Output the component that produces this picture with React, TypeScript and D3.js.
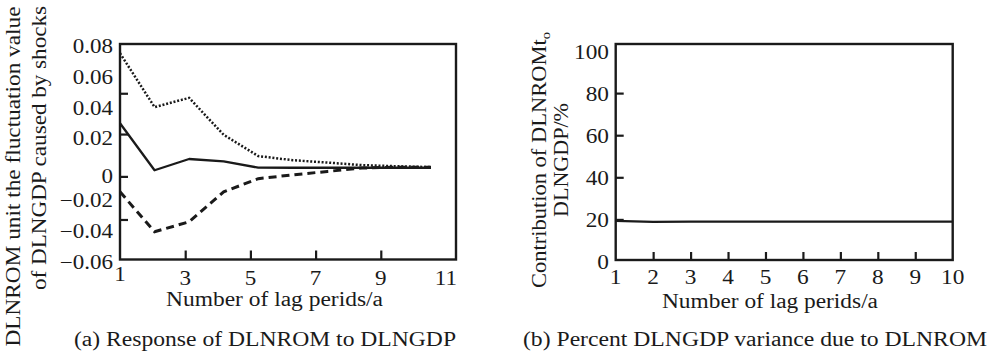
import { useEffect, useRef } from "react";
import * as d3 from "d3";

// ---- panel (a): impulse response ----
// lag positions as read against the printed axis (the plotted lags are spaced a bit wider than the ticks)
const lagPos = [1, 2.06, 3.12, 4.18, 5.24, 6.3, 7.36, 8.42, 9.48, 10.54];
const upperBand = [0.074, 0.039, 0.045, 0.021, 0.0072, 0.0045, 0.003, 0.0013, 0.0006, 0];
const response = [0.0285, -0.002, 0.0053, 0.0037, -0.0003, -0.0004, -0.0004, -0.0004, -0.0004, -0.0004];
const lowerBand = [-0.016, -0.042, -0.0355, -0.016, -0.0075, -0.005, -0.0028, -0.0006, 0, 0];

const aXTicks = [1, 3, 5, 7, 9, 11];
const aXTickMarks = [3, 5, 7, 9];
const aYLabels = ["0.08", "0.06", "0.04", "0.02", "0", "\u22120.02", "\u22120.04", "\u22120.06"];
const aYLabelAt = [0.08, 0.06, 0.04, 0.02, -0.0045, -0.02, -0.04, -0.06];
const aYTickMarks = [0.048, 0.0215, -0.006, -0.034];

// ---- panel (b): variance decomposition ----
const lags = [1, 2, 3, 4, 5, 6, 7, 8, 9, 10];
const contribution = [19.3, 18.8, 18.9, 18.9, 18.9, 18.9, 18.9, 18.9, 18.9, 18.9];
const bYTicks = [0, 20, 40, 60, 80, 100];
const bYTickMarks = [20, 40, 60, 80];
const bXTickMarks = [2, 3, 4, 5, 6, 7, 8, 9];

const FONT = "Liberation Serif, Tinos, Times New Roman, serif";
const INK = "#1a1a1a";

export default function App() {
  const ref = useRef<SVGSVGElement | null>(null);

  useEffect(() => {
    if (!ref.current) return;
    const svg = d3.select(ref.current);
    svg.selectAll("*").remove();

    const text = (
      x: number,
      y: number,
      s: string,
      opts: { size?: number; anchor?: string; len?: number; stretch?: number; rotate?: boolean } = {},
    ) => {
      const t = svg
        .append("text")
        .attr("x", x)
        .attr("y", y)
        .style("font-family", FONT)
        .style("font-size", `${opts.size ?? 20}px`)
        .attr("text-anchor", opts.anchor ?? "middle")
        .attr("fill", INK)
        .text(s);
      let len = opts.len;
      if (!len && opts.stretch) {
        const node = t.node() as SVGTextElement;
        len = node.getComputedTextLength() * opts.stretch;
      }
      if (len) t.attr("textLength", len).attr("lengthAdjust", "spacingAndGlyphs");
      if (opts.rotate) t.attr("transform", `rotate(-90,${x},${y})`);
      return t;
    };

    // ================= panel (a) =================
    const xa = d3.scaleLinear().domain([1, 11]).range([120, 446]);
    const ya = d3.scaleLinear().domain([-0.06, 0.08]).range([259.5, 44]);
    const aLeft = 120,
      aRight = 456,
      aTop = 44,
      aBottom = 259.5;

    // inward tick marks
    svg
      .append("g")
      .attr("transform", `translate(0,${aBottom})`)
      .call(d3.axisBottom(xa).tickValues(aXTickMarks).tickSize(-9).tickFormat(() => ""))
      .call((g) => g.select(".domain").remove())
      .call((g) => g.selectAll(".tick line").attr("stroke", INK).attr("stroke-width", 2.2));
    svg
      .append("g")
      .attr("transform", `translate(${aLeft},0)`)
      .call(d3.axisLeft(ya).tickValues(aYTickMarks).tickSize(-8).tickFormat(() => ""))
      .call((g) => g.select(".domain").remove())
      .call((g) => g.selectAll(".tick line").attr("stroke", INK).attr("stroke-width", 2.2));

    // frame
    svg
      .append("rect")
      .attr("x", aLeft)
      .attr("y", aTop)
      .attr("width", aRight - aLeft)
      .attr("height", aBottom - aTop)
      .attr("fill", "none")
      .attr("stroke", INK)
      .attr("stroke-width", 2.4);

    aYLabels.forEach((s, i) => {
      text(113, ya(aYLabelAt[i]) + 9, s, { size: 20, anchor: "end", stretch: 1.15 });
    });
    aXTicks.forEach((v) => {
      text(xa(v), v === 1 ? 281 : 285, String(v), { size: 21, stretch: 1.1 });
    });

    const lineA = (vals: number[]) =>
      d3
        .line<number>()
        .x((_d, i) => xa(lagPos[i]))
        .y((d) => ya(d))(vals);

    svg
      .append("path")
      .attr("d", lineA(upperBand))
      .attr("fill", "none")
      .attr("stroke", INK)
      .attr("stroke-width", 2.5)
      .attr("stroke-dasharray", "2 1.8");
    svg
      .append("path")
      .attr("d", lineA(lowerBand))
      .attr("fill", "none")
      .attr("stroke", INK)
      .attr("stroke-width", 3)
      .attr("stroke-dasharray", "8 5");
    svg
      .append("path")
      .attr("d", lineA(response))
      .attr("fill", "none")
      .attr("stroke", INK)
      .attr("stroke-width", 2.3)
      .attr("stroke-linejoin", "round");

    text(274.5, 306, "Number of lag perids/a", { len: 217 });
    text(265, 346, "(a) Response of DLNROM to DLNGDP", { len: 382 });
    text(20, 176.5, "DLNROM unit the fluctuation value", { rotate: true, len: 340 });
    text(46, 148, "of DLNGDP caused by shocks", { rotate: true, len: 284 });

    // ================= panel (b) =================
    const xb = d3.scaleLinear().domain([1, 10]).range([615.7, 952.7]);
    const yb = d3.scaleLinear().domain([0, 100]).range([261.5, 51]);
    const bLeft = 615.7,
      bRight = 952.7,
      bTop = 44,
      bBottom = 260;

    svg
      .append("g")
      .attr("transform", `translate(0,${bBottom})`)
      .call(d3.axisBottom(xb).tickValues(bXTickMarks).tickSize(-8).tickFormat(() => ""))
      .call((g) => g.select(".domain").remove())
      .call((g) => g.selectAll(".tick line").attr("stroke", INK).attr("stroke-width", 2.2));
    svg
      .append("g")
      .attr("transform", `translate(${bLeft},0)`)
      .call(d3.axisLeft(yb).tickValues(bYTickMarks).tickSize(-8).tickFormat(() => ""))
      .call((g) => g.select(".domain").remove())
      .call((g) => g.selectAll(".tick line").attr("stroke", INK).attr("stroke-width", 2.2));

    svg
      .append("rect")
      .attr("x", bLeft)
      .attr("y", bTop)
      .attr("width", bRight - bLeft)
      .attr("height", bBottom - bTop)
      .attr("fill", "none")
      .attr("stroke", INK)
      .attr("stroke-width", 2.4);

    bYTicks.forEach((v) => {
      text(609, yb(v) + 7.5, String(v), { size: 22, anchor: "end", stretch: 1.06 });
    });
    lags.forEach((v) => {
      text(xb(v), 284, String(v), { size: 22, stretch: 1.06 });
    });

    svg
      .append("path")
      .attr(
        "d",
        d3
          .line<number>()
          .x((_d, i) => xb(lags[i]))
          .y((d) => yb(d))(contribution),
      )
      .attr("fill", "none")
      .attr("stroke", INK)
      .attr("stroke-width", 2.2);

    text(770, 308, "Number of lag perids/a", { len: 216 });
    text(755, 346, "(b) Percent DLNGDP variance due to DLNROM", { len: 464 });

    // rotated y title of panel (b), "to" printed as t + small o in the source
    const t1 = svg
      .append("text")
      .attr("x", 546)
      .attr("y", 160)
      .style("font-family", FONT)
      .style("font-size", "20px")
      .attr("text-anchor", "middle")
      .attr("fill", INK)
      .attr("textLength", 256)
      .attr("lengthAdjust", "spacingAndGlyphs")
      .attr("transform", "rotate(-90,546,160)");
    t1.append("tspan").text("Contribution of DLNROMt");
    t1.append("tspan").style("font-size", "13px").attr("dy", 4).text("o");
    text(568, 160, "DLNGDP/%", { rotate: true, len: 114 });
  }, []);

  return (
    <svg
      ref={ref}
      width={990}
      height={353}
      style={{ position: "absolute", left: 0, top: 0, background: "#fff" }}
    />
  );
}
